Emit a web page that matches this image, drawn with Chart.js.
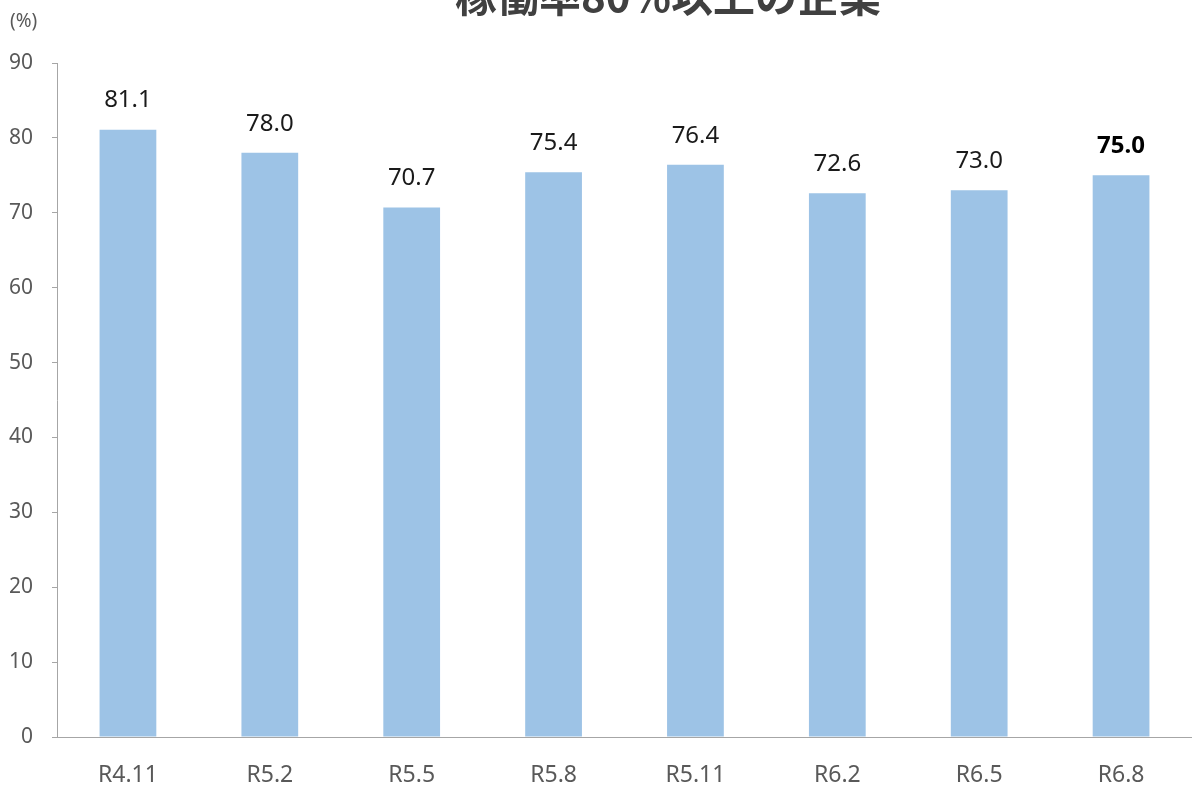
<!DOCTYPE html>
<html>
<head>
<meta charset="utf-8">
<script src="https://cdn.jsdelivr.net/npm/chart.js@4"></script>
<style>
  html, body { margin: 0; padding: 0; background: #fff; overflow: hidden; }
  #wrap { position: relative; width: 1192px; height: 787px; }
</style>
</head>
<body>
<div id="wrap"><canvas id="chart"></canvas></div>
<script>
const categories = ['R4.11', 'R5.2', 'R5.5', 'R5.8', 'R5.11', 'R6.2', 'R6.5', 'R6.8'];
const values = [81.1, 78.0, 70.7, 75.4, 76.4, 72.6, 73.0, 75.0];
const yTicks = [0, 10, 20, 30, 40, 50, 60, 70, 80, 90];
const titleText = '稼働率80%以上の企業';
const unitText = '(%)';

const FONT = "'Noto Sans', 'Noto Sans CJK JP', sans-serif";

// title is cut off by the top edge in the original, so draw it half outside
const titleAndLabels = {
    id: 'titleAndLabels',
    afterDatasetsDraw(chart) {
        const ctx = chart.ctx;
        ctx.save();
        ctx.fillStyle = '#404040';
        ctx.font = "bold 42px 'Noto Sans CJK JP', sans-serif";
        ctx.textAlign = 'center';
        ctx.textBaseline = 'middle';
        ctx.fillText(titleText, 668, -4);

        ctx.fillStyle = '#595959';
        ctx.font = '19px ' + FONT;
        ctx.textAlign = 'left';
        ctx.fillText(unitText, 10, 22);

        const meta = chart.getDatasetMeta(0);
        meta.data.forEach((bar, i) => {
            const last = i === values.length - 1;
            ctx.fillStyle = last ? '#000' : '#1a1a1a';
            ctx.font = (last ? 'bold ' : '') + '24px ' + FONT;
            ctx.textAlign = 'center';
            ctx.textBaseline = 'middle';
            ctx.fillText(values[i].toFixed(1), bar.x, bar.y - 29);
        });
        ctx.restore();
    }
};

new Chart(document.getElementById('chart'), {
    type: 'bar',
    data: {
        labels: categories,
        datasets: [{
            data: values,
            backgroundColor: '#9dc3e6',
            barPercentage: 0.4,
            categoryPercentage: 1.0
        }]
    },
    options: {
        responsive: true,
        maintainAspectRatio: false,
        animation: false,
        layout: { padding: { top: 63, right: 0, left: 0, bottom: 0 } },
        plugins: {
            legend: { display: false },
            tooltip: { enabled: false }
        },
        scales: {
            x: {
                grid: { display: false, drawTicks: false },
                border: { display: true, color: '#a6a6a6', width: 1 },
                ticks: {
                    color: '#595959',
                    font: { family: FONT, size: 23 },
                    padding: 25,
                    maxRotation: 0
                },
                afterFit: (s) => { s.height = 50; }
            },
            y: {
                min: 0,
                max: 90,
                afterBuildTicks: (s) => { s.ticks = yTicks.map(v => ({ value: v })); },
                grid: {
                    drawOnChartArea: false,
                    drawTicks: true,
                    tickLength: 5,
                    color: '#a6a6a6'
                },
                border: { display: true, color: '#a6a6a6', width: 1 },
                ticks: {
                    color: '#595959',
                    font: { family: FONT, size: 21 },
                    padding: 19
                },
                afterFit: (s) => { s.width = 57; }
            }
        }
    },
    plugins: [titleAndLabels]
});
</script>
</body>
</html>
